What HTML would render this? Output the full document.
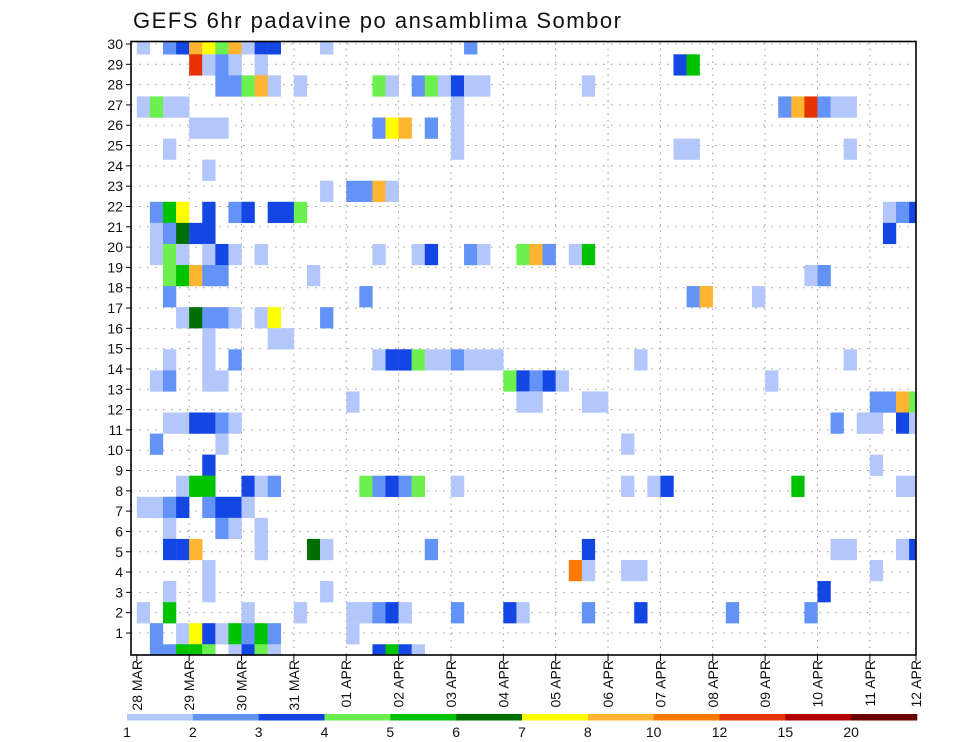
<!DOCTYPE html>
<html><head><meta charset="utf-8"><title>GEFS 6hr padavine</title>
<style>html,body{margin:0;padding:0;background:#fff;}svg{display:block;font-family:"Liberation Sans",sans-serif;}</style>
</head><body>
<svg id="chart" width="960" height="742" viewBox="0 0 960 742" xmlns="http://www.w3.org/2000/svg">
<defs><clipPath id="plotclip"><rect x="131" y="42" width="785" height="613"/></clipPath></defs>
<text x="133" y="28" font-size="22" fill="#111" textLength="488" lengthAdjust="spacing">GEFS 6hr padavine po ansamblima Sombor</text>
<g id="grid"></g>
<g id="cells" clip-path="url(#plotclip)"></g>
<rect x="131" y="41.5" width="785" height="613.5" fill="none" stroke="#000" stroke-width="1.6"/>
<g id="yaxis"></g>
<g id="xaxis"></g>
<g id="legend"></g>
</svg>
<script>
// data: [member row index from top, 6h time column, level index]
const dayLabels = ["28 MAR","29 MAR","30 MAR","31 MAR","01 APR","02 APR","03 APR","04 APR","05 APR","06 APR","07 APR","08 APR","09 APR","10 APR","11 APR","12 APR"];
const yTicks = [1,2,3,4,5,6,7,8,9,10,11,12,13,14,15,16,17,18,19,20,21,22,23,24,25,26,27,28,29,30];
const levelLabels = ["1","2","3","4","5","6","7","8","10","12","15","20"];
const levelColors = ["#b3c7fb","#6393f6","#1446e4","#6cf050","#00c300","#006e00","#ffff00","#ffb432","#ff7800","#e63200","#b00000","#6a0000"];
const cells = [
[0,0,0],[0,2,1],[0,3,2],[0,4,7],[0,5,6],[0,6,3],[0,7,7],[0,8,0],[0,9,2],[0,10,2],[0,14,0],[0,25,1],
[1,4,9],[1,5,0],[1,6,1],[1,7,0],[1,9,0],[1,41,2],[1,42,4],
[2,6,1],[2,7,1],[2,8,3],[2,9,7],[2,10,0],[2,12,0],[2,18,3],[2,19,0],[2,21,1],[2,22,3],[2,23,0],[2,24,2],[2,25,0],[2,26,0],[2,34,0],
[3,0,0],[3,1,3],[3,2,0],[3,3,0],[3,24,0],[3,49,1],[3,50,7],[3,51,9],[3,52,1],[3,53,0],[3,54,0],
[4,4,0],[4,5,0],[4,6,0],[4,18,1],[4,19,6],[4,20,7],[4,22,1],[4,24,0],
[5,2,0],[5,24,0],[5,41,0],[5,42,0],[5,54,0],
[6,5,0],
[7,14,0],[7,16,1],[7,17,1],[7,18,7],[7,19,0],
[8,1,1],[8,2,4],[8,3,6],[8,5,2],[8,7,1],[8,8,2],[8,10,2],[8,11,2],[8,12,3],[8,57,0],[8,58,1],[8,59,2],
[9,1,0],[9,2,1],[9,3,5],[9,4,2],[9,5,2],[9,57,2],
[10,1,0],[10,2,3],[10,3,0],[10,5,0],[10,6,2],[10,7,0],[10,9,0],[10,18,0],[10,21,0],[10,22,2],[10,25,1],[10,26,0],[10,29,3],[10,30,7],[10,31,1],[10,33,0],[10,34,4],
[11,2,3],[11,3,4],[11,4,7],[11,5,1],[11,6,1],[11,13,0],[11,51,0],[11,52,1],
[12,2,1],[12,17,1],[12,42,1],[12,43,7],[12,47,0],
[13,3,0],[13,4,5],[13,5,1],[13,6,1],[13,7,0],[13,9,0],[13,10,6],[13,14,1],
[14,5,0],[14,10,0],[14,11,0],
[15,2,0],[15,5,0],[15,7,1],[15,18,0],[15,19,2],[15,20,2],[15,21,3],[15,22,0],[15,23,0],[15,24,1],[15,25,0],[15,26,0],[15,27,0],[15,38,0],[15,54,0],
[16,1,0],[16,2,1],[16,5,0],[16,6,0],[16,28,3],[16,29,2],[16,30,1],[16,31,2],[16,32,0],[16,48,0],
[17,16,0],[17,29,0],[17,30,0],[17,34,0],[17,35,0],[17,56,1],[17,57,1],[17,58,7],[17,59,3],
[18,2,0],[18,3,0],[18,4,2],[18,5,2],[18,6,1],[18,7,0],[18,53,1],[18,55,0],[18,56,0],[18,58,2],[18,59,0],
[19,1,1],[19,6,0],[19,37,0],
[20,5,2],[20,56,0],
[21,3,0],[21,4,4],[21,5,4],[21,8,2],[21,9,0],[21,10,1],[21,17,3],[21,18,1],[21,19,2],[21,20,1],[21,21,3],[21,24,0],[21,37,0],[21,39,0],[21,40,2],[21,50,4],[21,58,0],[21,59,0],
[22,0,0],[22,1,0],[22,2,1],[22,3,2],[22,5,1],[22,6,2],[22,7,2],[22,8,0],
[23,2,0],[23,6,1],[23,7,0],[23,9,0],
[24,2,2],[24,3,2],[24,4,7],[24,9,0],[24,13,5],[24,14,0],[24,22,1],[24,34,2],[24,53,0],[24,54,0],[24,58,0],[24,59,2],
[25,5,0],[25,33,8],[25,34,0],[25,37,0],[25,38,0],[25,56,0],
[26,2,0],[26,5,0],[26,14,0],[26,52,2],
[27,0,0],[27,2,4],[27,8,0],[27,12,0],[27,16,0],[27,17,0],[27,18,1],[27,19,2],[27,20,0],[27,24,1],[27,28,2],[27,29,0],[27,34,1],[27,38,2],[27,45,1],[27,51,1],
[28,1,1],[28,3,0],[28,4,6],[28,5,2],[28,6,0],[28,7,4],[28,8,1],[28,9,4],[28,10,1],[28,16,0],
[29,1,1],[29,2,1],[29,3,4],[29,4,4],[29,5,3],[29,7,0],[29,8,2],[29,9,3],[29,10,0],[29,18,2],[29,19,4],[29,20,2],[29,21,0]
];

const NS = "http://www.w3.org/2000/svg";
const X0 = 136.8, COLW = 13.09, DAYW = COLW * 4;
const CELLY0 = 43.76, CELLH = 21.07;
function xCol(c){ return X0 + c * COLW; }
function xDay(d){ return X0 + d * DAYW; }
function yTick(k){ return 44 + (30 - k) * 20.31; }
function yCell(m){ return CELLY0 + m * CELLH - CELLH / 2; }
function mk(tag, attrs, parent){ const e = document.createElementNS(NS, tag); for (const k in attrs) e.setAttribute(k, attrs[k]); parent.appendChild(e); return e; }

const grid = document.getElementById('grid');
yTicks.forEach(k => {
  const l = mk('line', {x1:131, x2:916, y1:yTick(k), y2:yTick(k), stroke:'#999', 'stroke-width':1, 'stroke-dasharray':'1.5 6.5'}, grid);
  
  
});
dayLabels.forEach((d, i) => {
  if (i === 0 || xDay(i) > 915) return;
  const l = mk('line', {x1:xDay(i), x2:xDay(i), y1:42, y2:655, stroke:'#999', 'stroke-width':1, 'stroke-dasharray':'1.5 5'}, grid);
  
  
});

const cg = document.getElementById('cells');
cells.forEach(c => {
  const r = mk('rect', {x:xCol(c[1]), y:yCell(c[0]), width:COLW + 0.2, height:CELLH + 0.2, fill:levelColors[c[2]]}, cg);
  
  
});

const ya = document.getElementById('yaxis');
yTicks.forEach(k => {
  mk('line', {x1:126, x2:131, y1:yTick(k), y2:yTick(k), stroke:'#000', 'stroke-width':1}, ya);
  const t = mk('text', {x:123, y:yTick(k) + 5, 'font-size':14, 'text-anchor':'end', fill:'#111'}, ya);
  t.textContent = k;
  
  
});

const xa = document.getElementById('xaxis');
dayLabels.forEach((d, i) => {
  const x = Math.min(xDay(i), 916);
  mk('line', {x1:x, x2:x, y1:655, y2:661, stroke:'#000', 'stroke-width':1}, xa);
  const t = mk('text', {x:0, y:0, 'font-size':14, 'text-anchor':'end', fill:'#111', transform:'translate(' + (x + 5) + ',660) rotate(-90)'}, xa);
  t.textContent = d;
  
  
});

const lg = document.getElementById('legend');
const LX0 = 127, LW = (917 - 127) / 12;
levelColors.forEach((col, i) => {
  const r = mk('rect', {x:LX0 + i * LW, y:714, width:LW + 0.3, height:6.5, fill:col}, lg);
  
  
  const t = mk('text', {x:LX0 + i * LW, y:737, 'font-size':14, 'text-anchor':'middle', fill:'#111'}, lg);
  t.textContent = levelLabels[i];
  
  
});
</script>
</body></html>
